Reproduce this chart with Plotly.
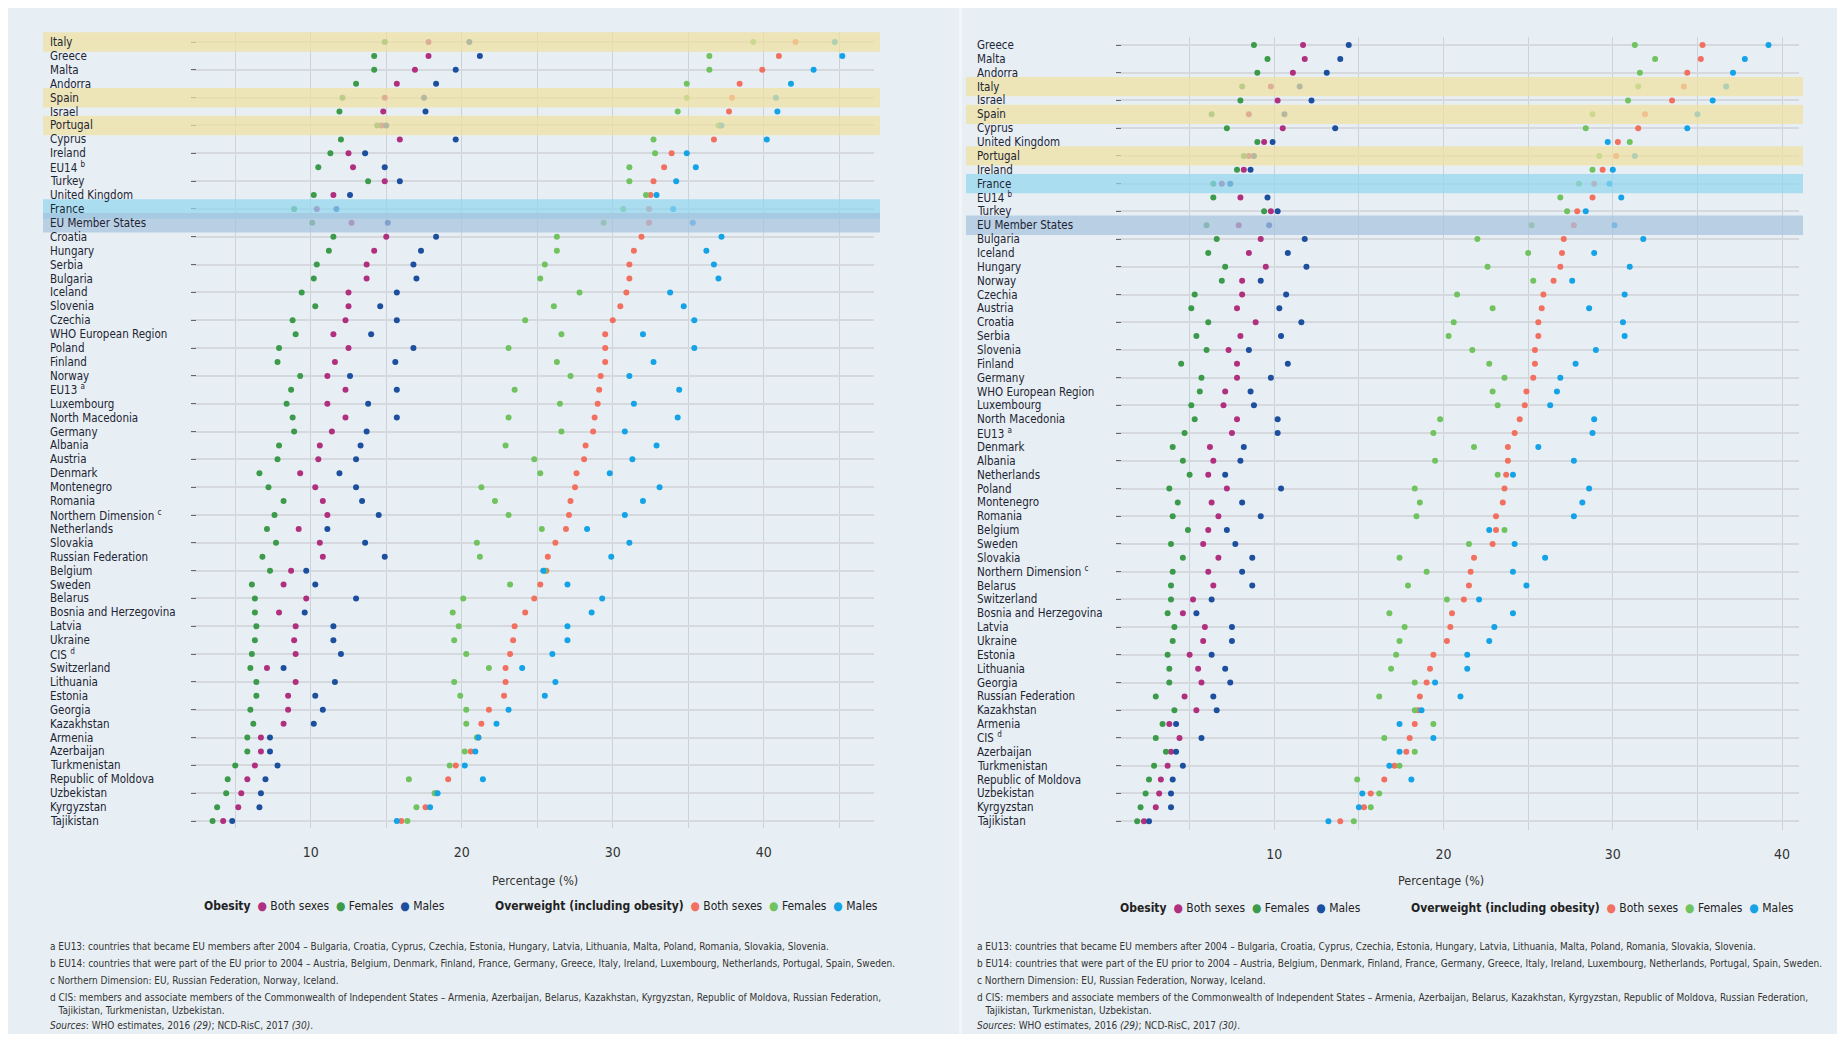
import plotly.graph_objects as go

# the page keeps an 8 px body margin, so the figure is laid out in
# reference pixels and shifted by OFF
W, H, OFF = 1837, 1026, 8
FONT = "DejaVu Sans Condensed, Liberation Sans Narrow, Arial Narrow, sans-serif"
BG = "#e8eff4"

# ── data: left panel ───────────────────────────────────────────────
LEFT_COUNTRIES = [
    "Italy", "Greece", "Malta", "Andorra", "Spain", "Israel", "Portugal", "Cyprus",
    "Ireland", "EU14 <sup>b</sup>", "Turkey", "United Kingdom", "France",
    "EU Member States", "Croatia", "Hungary", "Serbia", "Bulgaria", "Iceland",
    "Slovenia", "Czechia", "WHO European Region", "Poland", "Finland", "Norway",
    "EU13 <sup>a</sup>", "Luxembourg", "North Macedonia", "Germany", "Albania",
    "Austria", "Denmark", "Montenegro", "Romania", "Northern Dimension <sup>c</sup>",
    "Netherlands", "Slovakia", "Russian Federation", "Belgium", "Sweden", "Belarus",
    "Bosnia and Herzegovina", "Latvia", "Ukraine", "CIS <sup>d</sup>", "Switzerland",
    "Lithuania", "Estonia", "Georgia", "Kazakhstan", "Armenia", "Azerbaijan",
    "Turkmenistan", "Republic of Moldova", "Uzbekistan", "Kyrgyzstan", "Tajikistan",
]
LEFT_OB_BOTH = [17.8, 17.8, 16.9, 15.7, 14.9, 14.8, 14.7, 15.9, 12.5, 12.8, 14.9, 11.5,
                10.4, 12.7, 15.0, 14.2, 13.7, 13.7, 12.5, 12.5, 12.3, 11.5, 12.5, 11.6,
                11.1, 12.3, 11.1, 12.3, 11.4, 10.6, 10.5, 9.3, 10.3, 10.8, 11.1, 9.2,
                10.6, 10.8, 8.7, 8.2, 9.7, 7.9, 9.0, 8.9, 9.0, 7.1, 9.0, 8.5, 8.5, 8.2,
                6.7, 6.7, 6.3, 5.8, 5.4, 5.2, 4.2]
LEFT_OB_FEM = [14.9, 14.2, 14.2, 13.0, 12.1, 11.9, 14.4, 12.0, 11.3, 10.5, 13.8, 10.2,
               8.9, 10.1, 11.5, 11.2, 10.4, 10.2, 9.4, 10.3, 8.8, 9.0, 7.9, 7.8, 9.3,
               8.7, 8.4, 8.8, 8.9, 7.9, 7.8, 6.6, 7.2, 8.2, 7.6, 7.1, 7.7, 6.8, 7.3,
               6.1, 6.3, 6.3, 6.4, 6.3, 6.1, 6.0, 6.4, 6.4, 6.0, 6.2, 5.8, 5.8, 5.0,
               4.5, 4.4, 3.8, 3.5]
LEFT_OB_MALE = [20.5, 21.2, 19.6, 18.3, 17.5, 17.6, 15.0, 19.6, 13.6, 14.9, 15.9, 12.6,
                11.7, 15.1, 18.3, 17.3, 16.8, 17.0, 15.7, 14.6, 15.7, 14.0, 16.8, 15.6,
                12.6, 15.7, 13.8, 15.7, 13.7, 13.3, 13.0, 11.9, 13.0, 13.4, 14.5, 11.1,
                13.6, 14.9, 9.7, 10.3, 13.0, 9.6, 11.5, 11.5, 12.0, 8.2, 11.6, 10.3,
                10.8, 10.2, 7.3, 7.3, 7.8, 7.0, 6.7, 6.6, 4.8]
LEFT_OW_BOTH = [42.1, 41.0, 39.9, 38.4, 37.9, 37.7, 37.1, 36.7, 33.9, 33.4, 32.7, 32.5,
                32.4, 32.4, 31.9, 31.4, 31.1, 31.1, 30.9, 30.5, 30.0, 29.5, 29.5, 29.5,
                29.2, 29.1, 29.0, 28.8, 28.7, 28.2, 28.1, 27.6, 27.5, 27.2, 27.1, 26.9,
                26.2, 25.7, 25.6, 25.2, 24.8, 24.2, 23.5, 23.4, 23.2, 22.9, 22.9, 22.8,
                21.8, 21.3, 21.1, 20.6, 19.6, 19.1, 18.3, 17.6, 16.0]
LEFT_OW_FEM = [39.3, 36.4, 36.4, 34.9, 34.9, 34.3, 37.0, 32.7, 32.8, 31.1, 31.1, 32.2,
               30.7, 29.4, 26.3, 26.3, 25.5, 25.2, 27.8, 26.1, 24.2, 26.6, 23.1, 26.3,
               27.2, 23.5, 26.5, 23.1, 26.6, 22.9, 24.8, 25.2, 21.3, 22.2, 23.1, 25.3,
               21.0, 21.2, 25.5, 23.2, 20.1, 19.4, 19.8, 19.5, 20.3, 21.8, 19.5, 19.9,
               20.3, 20.3, 21.0, 20.2, 19.2, 16.5, 18.2, 17.0, 16.4]
LEFT_OW_MALE = [44.7, 45.2, 43.3, 41.8, 40.8, 40.9, 37.2, 40.2, 34.9, 35.5, 34.2, 32.9,
                34.0, 35.3, 37.2, 36.2, 36.7, 37.0, 33.8, 34.7, 35.4, 32.0, 35.4, 32.7,
                31.1, 34.4, 31.4, 34.3, 30.8, 32.9, 31.3, 29.8, 33.1, 32.0, 30.8, 28.3,
                31.1, 29.9, 25.4, 27.0, 29.3, 28.6, 27.0, 27.0, 26.0, 24.0, 26.2, 25.5,
                23.1, 22.3, 21.1, 20.9, 20.2, 21.4, 18.4, 17.9, 15.7]

# ── data: right panel ──────────────────────────────────────────────
RIGHT_COUNTRIES = [
    "Greece", "Malta", "Andorra", "Italy", "Israel", "Spain", "Cyprus", "United Kingdom",
    "Portugal", "Ireland", "France", "EU14 <sup>b</sup>", "Turkey", "EU Member States",
    "Bulgaria", "Iceland", "Hungary", "Norway", "Czechia", "Austria", "Croatia",
    "Serbia", "Slovenia", "Finland", "Germany", "WHO European Region", "Luxembourg",
    "North Macedonia", "EU13 <sup>a</sup>", "Denmark", "Albania", "Netherlands",
    "Poland", "Montenegro", "Romania", "Belgium", "Sweden", "Slovakia",
    "Northern Dimension <sup>c</sup>", "Belarus", "Switzerland", "Bosnia and Herzegovina",
    "Latvia", "Ukraine", "Estonia", "Lithuania", "Georgia", "Russian Federation",
    "Kazakhstan", "Armenia", "CIS <sup>d</sup>", "Azerbaijan", "Turkmenistan",
    "Republic of Moldova", "Uzbekistan", "Kyrgyzstan", "Tajikistan",
]
RIGHT_OB_BOTH = [11.7, 11.8, 11.1, 9.8, 10.2, 8.5, 10.5, 9.4, 8.5, 8.2, 6.9, 8.0, 9.8,
                 7.9, 9.2, 8.5, 9.5, 8.1, 8.1, 7.8, 8.9, 8.0, 7.3, 7.8, 7.8, 7.1, 7.0,
                 7.8, 7.5, 6.2, 6.4, 6.1, 7.2, 6.3, 6.7, 6.1, 5.8, 6.7, 6.1, 6.4, 5.2,
                 4.6, 5.9, 5.8, 5.0, 5.5, 5.7, 4.7, 5.4, 3.8, 4.4, 3.9, 3.7, 3.3, 3.2,
                 3.0, 2.3]
RIGHT_OB_FEM = [8.8, 9.6, 9.0, 8.1, 8.0, 6.3, 7.2, 9.0, 8.2, 7.8, 6.4, 6.4, 9.4, 6.0,
                6.6, 6.1, 7.1, 6.9, 5.3, 5.1, 6.1, 5.4, 6.0, 4.5, 5.7, 5.6, 5.1, 5.3,
                4.7, 4.0, 4.6, 5.0, 3.8, 4.3, 4.0, 4.9, 3.9, 4.6, 4.0, 3.9, 3.9, 3.7,
                4.1, 4.0, 3.7, 3.8, 3.8, 3.0, 4.1, 3.4, 3.0, 3.6, 2.9, 2.6, 2.4, 2.1,
                1.9]
RIGHT_OB_MALE = [14.4, 13.9, 13.1, 11.5, 12.2, 10.6, 13.6, 9.9, 8.8, 8.6, 7.4, 9.6,
                 10.2, 9.7, 11.8, 10.8, 11.9, 9.2, 10.7, 10.3, 11.6, 10.4, 8.5, 10.8,
                 9.8, 8.6, 8.8, 10.2, 10.2, 8.2, 8.0, 7.1, 10.4, 8.1, 9.2, 7.2, 7.7,
                 8.7, 8.1, 8.7, 6.3, 5.4, 7.5, 7.5, 6.3, 7.1, 7.4, 6.4, 6.6, 4.2, 5.7,
                 4.2, 4.6, 4.0, 3.9, 3.9, 2.6]
RIGHT_OW_BOTH = [35.3, 35.2, 34.4, 34.2, 33.5, 31.9, 31.5, 30.3, 30.2, 29.4, 28.9,
                 28.8, 27.9, 27.7, 27.1, 27.0, 26.9, 26.5, 25.9, 25.8, 25.6, 25.6, 25.4,
                 25.4, 25.3, 24.9, 24.8, 24.5, 24.2, 23.8, 23.8, 23.7, 23.6, 23.5, 23.1,
                 23.1, 22.9, 21.8, 21.6, 21.5, 21.2, 20.5, 20.4, 20.2, 19.4, 19.2, 19.0,
                 18.6, 18.5, 18.3, 18.0, 17.8, 17.1, 16.5, 15.7, 15.3, 13.9]
RIGHT_OW_FEM = [31.3, 32.5, 31.6, 31.5, 30.9, 28.8, 28.4, 31.0, 29.2, 28.8, 28.0, 26.9,
                27.3, 25.2, 22.0, 25.0, 22.6, 25.3, 20.8, 22.9, 20.6, 20.3, 21.7, 22.7,
                23.6, 22.9, 23.2, 19.8, 19.4, 21.8, 19.5, 23.2, 18.3, 18.6, 18.4, 23.6,
                21.5, 17.4, 19.0, 17.9, 20.2, 16.8, 17.7, 17.4, 17.2, 16.9, 18.3, 16.2,
                18.3, 19.4, 16.5, 18.3, 17.4, 14.9, 16.2, 15.7, 14.7]
RIGHT_OW_MALE = [39.2, 37.8, 37.1, 36.7, 35.9, 35.0, 34.4, 29.7, 31.3, 30.0, 29.8,
                 30.5, 28.4, 30.1, 31.8, 28.9, 31.0, 27.6, 30.7, 28.6, 30.6, 30.7, 29.0,
                 27.8, 26.9, 26.7, 26.3, 28.9, 28.8, 25.6, 27.7, 24.1, 28.6, 28.2, 27.7,
                 22.7, 24.2, 26.0, 24.1, 24.9, 22.1, 24.1, 23.0, 22.7, 21.4, 21.4, 19.5,
                 21.0, 18.7, 17.4, 19.4, 17.4, 16.8, 18.1, 15.2, 15.0, 13.2]

SERIES = ["Obesity, both sexes", "Obesity, females", "Obesity, males",
          "Overweight, both sexes", "Overweight, females", "Overweight, males"]
COLORS = ["#b0307f", "#3b9b4a", "#1d4f9f", "#f2705f", "#70c35f", "#13a3e6"]

X_TICK_VALS = [10, 20, 30, 40]
X_MINOR_VALS = [5, 15, 25, 35, 45]

# highlighted rows: (country, fill)
HIGHLIGHTS = [("Italy", "#efe09f"), ("Spain", "#efe09f"), ("Portugal", "#efe09f"),
              ("France", "#92d6ef"), ("EU Member States", "#a6c2de")]

FOOTNOTES = [
    "a EU13: countries that became EU members after 2004 – Bulgaria, Croatia, Cyprus, "
    "Czechia, Estonia, Hungary, Latvia, Lithuania, Malta, Poland, Romania, Slovakia, Slovenia.",
    "b EU14: countries that were part of the EU prior to 2004 – Austria, Belgium, Denmark, "
    "Finland, France, Germany, Greece, Italy, Ireland, Luxembourg, Netherlands, Portugal, "
    "Spain, Sweden.",
    "c Northern Dimension: EU, Russian Federation, Norway, Iceland.",
    "d CIS: members and associate members of the Commonwealth of Independent States – "
    "Armenia, Azerbaijan, Belarus, Kazakhstan, Kyrgyzstan, Republic of Moldova, Russian "
    "Federation,",
    "   Tajikistan, Turkmenistan, Uzbekistan.",
    "<i>Sources</i>: WHO estimates, 2016 <i>(29)</i>; NCD-RisC, 2017 <i>(30)</i>.",
]
FOOT_Y = [946, 963, 980, 997, 1010, 1025]


def fx(p):
    return (p - OFF) / W


def fy(p):
    return 1 - (p - OFF) / H


# panel geometry in reference pixels
PANELS = [
    dict(countries=LEFT_COUNTRIES,
         vals=[LEFT_OB_BOTH, LEFT_OB_FEM, LEFT_OB_MALE,
               LEFT_OW_BOTH, LEFT_OW_FEM, LEFT_OW_MALE],
         plot_x=(191, 874), plot_y=(32, 828), xrange=[2.07, 47.3],
         yrange=[56.5, -0.72], label_x=48, band_x=(43, 880),
         title_x=535, legend_x=(202, 493), legend_y=906, foot_x=48),
    dict(countries=RIGHT_COUNTRIES,
         vals=[RIGHT_OB_BOTH, RIGHT_OB_FEM, RIGHT_OB_MALE,
               RIGHT_OW_BOTH, RIGHT_OW_FEM, RIGHT_OW_MALE],
         plot_x=(1116, 1799), plot_y=(37, 830), xrange=[0.65, 41.0],
         yrange=[56.64, -0.58], label_x=975, band_x=(966, 1803),
         title_x=1441, legend_x=(1118, 1409), legend_y=908, foot_x=975),
]

fig = go.Figure()
shapes, annotations = [], []

# faint divider between the two panels
shapes.append(dict(type="rect", xref="paper", yref="paper", x0=fx(959), x1=fx(962),
                   y0=0, y1=fy(4), fillcolor="#f1f5f8", line_width=0, layer="below"))

for n, p in enumerate(PANELS, start=1):
    xa = "x" if n == 1 else f"x{n}"
    ya = "y" if n == 1 else f"y{n}"
    for name, color, vals in zip(SERIES, COLORS, p["vals"]):
        fig.add_trace(go.Scatter(
            x=vals, y=p["countries"], mode="markers", name=name, showlegend=False,
            marker=dict(color=color, size=6, line_width=0),
            xaxis=xa, yaxis=ya))

    xaxis = dict(
        domain=[fx(p["plot_x"][0]), fx(p["plot_x"][1])], range=p["xrange"],
        anchor=ya, tickvals=X_TICK_VALS,
        showgrid=True, gridcolor="#cdd2d6", gridwidth=1, zeroline=False,
        showline=False, ticks="", ticklabelstandoff=14,
        minor=dict(tickvals=X_MINOR_VALS, showgrid=True, gridcolor="#cdd2d6",
                   gridwidth=1, ticks=""),
        tickfont=dict(family=FONT, size=14, color="#333"))
    yaxis = dict(
        domain=[fy(p["plot_y"][1]), fy(p["plot_y"][0])], range=p["yrange"],
        anchor=xa, type="category", categoryorder="array",
        categoryarray=p["countries"], showticklabels=False,
        ticks="inside", ticklen=5, tickwidth=1, tickcolor="#666",
        showgrid=True, gridcolor="#d5d9dd", gridwidth=2, zeroline=False,
        showline=False)
    fig.update_layout({("xaxis" if n == 1 else f"xaxis{n}"): xaxis,
                       ("yaxis" if n == 1 else f"yaxis{n}"): yaxis})

    # country labels, left aligned
    for c in p["countries"]:
        annotations.append(dict(
            xref="paper", yref=ya, x=fx(p["label_x"]), y=c, text=c,
            xanchor="left", yanchor="middle", showarrow=False,
            font=dict(family=FONT, size=11.5, color="#1d2433")))

    # highlight bands (semi transparent, over the dots)
    for c, fill in HIGHLIGHTS:
        i = p["countries"].index(c)
        shapes.append(dict(
            type="rect", xref="paper", yref=ya,
            x0=fx(p["band_x"][0]), x1=fx(p["band_x"][1]), y0=i - 0.7, y1=i + 0.7,
            fillcolor=fill, opacity=0.72, line_width=0, layer="above"))

    # axis title
    annotations.append(dict(
        xref="paper", yref="paper", x=fx(p["title_x"]), y=fy(880),
        text="Percentage (%)", showarrow=False, xanchor="center", yanchor="middle",
        font=dict(family=FONT, size=12.5, color="#333")))

    # legend
    dot = "<span style='color:{}'>●</span>"
    ob = ("<b>Obesity</b>  " + dot.format(COLORS[0]) + " Both sexes  "
          + dot.format(COLORS[1]) + " Females  " + dot.format(COLORS[2]) + " Males")
    ow = ("<b>Overweight (including obesity)</b>  " + dot.format(COLORS[3])
          + " Both sexes  " + dot.format(COLORS[4]) + " Females  "
          + dot.format(COLORS[5]) + " Males")
    for lx, txt in zip(p["legend_x"], (ob, ow)):
        annotations.append(dict(
            xref="paper", yref="paper", x=fx(lx), y=fy(p["legend_y"]), text=txt,
            showarrow=False, xanchor="left", yanchor="middle",
            font=dict(family=FONT, size=12, color="#222")))

    # footnotes
    for txt, yy in zip(FOOTNOTES, FOOT_Y):
        annotations.append(dict(
            xref="paper", yref="paper", x=fx(p["foot_x"]), y=fy(yy), text=txt,
            showarrow=False, xanchor="left", yanchor="middle",
            font=dict(family=FONT, size=10, color="#333")))

fig.update_layout(
    width=W, height=H, margin=dict(l=0, r=0, t=0, b=0),
    paper_bgcolor=BG, plot_bgcolor="rgba(0,0,0,0)",
    shapes=shapes, annotations=annotations, showlegend=False,
    font=dict(family=FONT))

fig.write_html("out.html")
